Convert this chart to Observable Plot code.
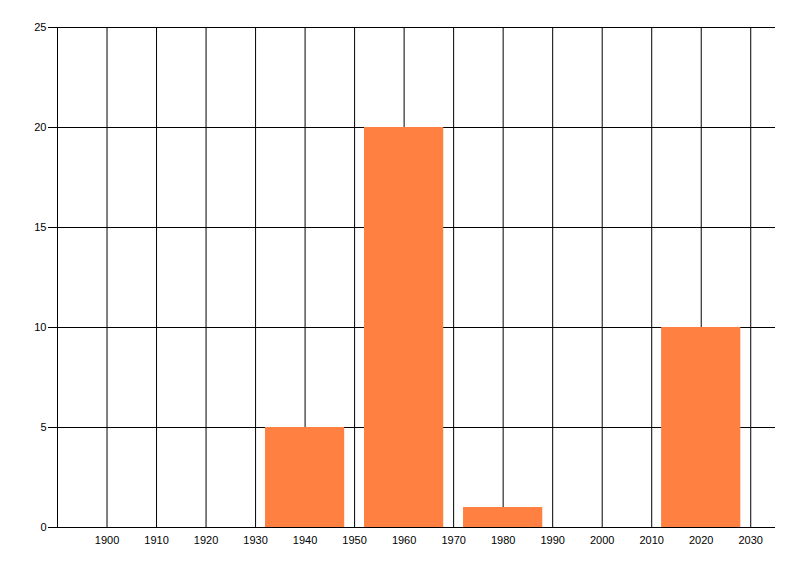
<!DOCTYPE html>
<html>
<head>
<meta charset="utf-8">
<script src="https://cdn.jsdelivr.net/npm/d3@7"></script>
<script src="https://cdn.jsdelivr.net/npm/@observablehq/plot@0.6"></script>
<style>
  html, body { margin: 0; padding: 0; background: #fff; }
  #chart svg { display: block; }
</style>
</head>
<body>
<div id="chart"></div>
<script>
const years = [1940, 1960, 1980, 2020];
const counts = [5, 20, 1, 10];
const xTicks = [1900, 1910, 1920, 1930, 1940, 1950, 1960, 1970, 1980, 1990, 2000, 2010, 2020, 2030];
const yTicks = [0, 5, 10, 15, 20, 25];
const xDomain = [1890, 2035];
const yDomain = [0, 25];
const barHalfWidth = 8;

const bars = years.map((y, i) => ({year: y, count: counts[i]}));

const chart = Plot.plot({
  width: 800,
  height: 576,
  marginLeft: 57,
  marginRight: 25,
  marginTop: 27,
  marginBottom: 49,
  style: {fontFamily: "'Liberation Sans', Arial, sans-serif", fontSize: "11px", color: "#000", background: "#fff"},
  x: {type: "linear", domain: xDomain, label: null},
  y: {domain: yDomain, label: null},
  marks: [
    Plot.ruleX(xTicks, {y1: yDomain[0], y2: yDomain[1], stroke: "#000", strokeWidth: 1}),
    Plot.ruleY(yTicks, {x1: xDomain[0], x2: xDomain[1], stroke: "#000", strokeWidth: 1}),
    Plot.ruleX([xDomain[0]], {y1: yDomain[0], y2: yDomain[1], stroke: "#000"}),
    Plot.rectY(bars, {x1: d => d.year - barHalfWidth, x2: d => d.year + barHalfWidth, y1: 0, y2: "count", fill: "#FF8040"}),
    Plot.axisY({ticks: yTicks, tickSize: 9, tickPadding: 2, tickFormat: d => String(d), stroke: "#000", strokeOpacity: 1, fill: "#000", label: null}),
    Plot.axisX({ticks: xTicks, tickSize: 0, tickPadding: 9, tickFormat: d => String(d), fill: "#000", label: null})
  ]
});
document.getElementById("chart").appendChild(chart);
</script>
</body>
</html>
